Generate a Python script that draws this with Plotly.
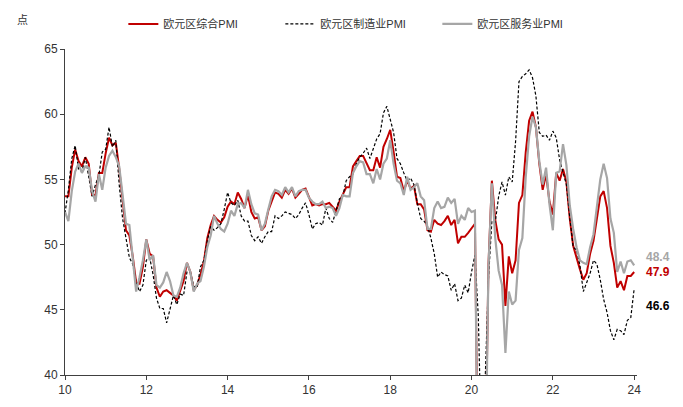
#!/usr/bin/env python

import plotly.graph_objs as go

# monthly, Jan 2010 .. Jan 2024
composite = [
    53.7, 53.7, 55.9, 57.3, 56.4, 56.0, 56.7, 56.2, 53.8, 53.8, 55.5, 55.5,
    57.0, 58.2, 57.6, 57.8, 55.8, 53.3, 51.1, 50.7, 49.1, 47.1, 47.0, 48.3,
    50.4, 49.3, 49.1, 46.7, 46.0, 46.4, 46.5, 46.3, 46.1, 45.7, 46.5, 47.2,
    48.6, 47.9, 46.5, 46.9, 47.7, 48.7, 50.5, 51.5, 52.2, 51.9, 51.7, 52.1,
    52.9, 53.3, 53.1, 54.0, 53.5, 52.8, 53.8, 52.5, 52.0, 52.1, 51.1, 51.4,
    52.6, 53.3, 54.0, 53.9, 53.6, 54.2, 53.9, 54.3, 53.6, 53.9, 54.2, 54.3,
    53.6, 53.0, 53.1, 53.0, 53.1, 53.1, 53.2, 52.9, 52.6, 53.3, 53.9, 54.4,
    54.4, 56.0, 56.4, 56.8, 56.8, 56.3, 55.7, 55.7, 56.7, 55.9, 57.5, 58.1,
    58.8, 57.1, 55.2, 55.1, 54.1, 54.9, 54.3, 54.5, 53.1, 53.1, 52.7, 51.1,
    51.0, 51.9, 51.6, 51.5, 51.8, 52.2, 51.5, 51.9, 50.1, 50.6, 50.6, 50.9,
    51.3, 51.6, 29.7, 13.6, 31.9, 48.5, 54.9, 51.9, 50.4, 50.0, 45.3, 49.1,
    47.8, 48.8, 53.2, 53.8, 57.1, 59.5, 60.2, 59.0, 56.2, 54.2, 55.4, 53.3,
    52.3, 55.5, 54.9, 55.8, 54.8, 52.0, 49.9, 48.9, 48.1, 47.3, 47.8, 49.3,
    50.3, 52.0, 53.7, 54.1, 52.8, 49.9, 48.6, 46.7, 47.2, 46.5, 47.6, 47.6,
    47.9,
]

manufacturing = [
    52.4, 54.2, 56.6, 57.6, 55.8, 55.6, 56.7, 55.1, 53.7, 54.6, 55.3, 57.1,
    57.3, 59.0, 57.5, 58.0, 54.6, 52.0, 50.4, 49.0, 48.5, 47.1, 46.4, 46.9,
    48.8, 49.0, 47.7, 45.9, 45.1, 45.1, 44.0, 45.1, 46.1, 45.4, 46.2, 46.1,
    47.9, 47.9, 46.8, 46.7, 48.3, 48.8, 50.3, 51.4, 51.1, 51.3, 51.6, 52.7,
    54.0, 53.2, 53.0, 53.4, 52.2, 51.8, 51.8, 50.7, 50.3, 50.6, 50.1, 50.6,
    51.0, 51.0, 52.2, 52.0, 52.2, 52.5, 52.4, 52.3, 52.0, 52.3, 52.8, 53.2,
    52.3, 51.2, 51.6, 51.7, 51.5, 52.8, 52.0, 51.7, 52.6, 53.5, 53.7, 54.9,
    55.2, 55.4, 56.2, 56.7, 57.0, 57.4, 56.6, 57.4, 58.1, 58.5, 60.1, 60.6,
    59.6, 58.6, 56.6, 56.2, 55.5, 54.9, 55.1, 54.6, 53.2, 52.0, 51.8, 51.4,
    50.5, 49.3, 47.5, 47.9, 47.7, 47.6, 46.5, 47.0, 45.7, 45.9, 46.9, 46.3,
    47.9, 49.2, 44.5, 33.4, 39.4, 47.4, 51.8, 51.7, 53.7, 54.8, 53.8, 55.2,
    54.8, 57.9, 62.5, 62.9, 63.1, 63.4, 62.8, 61.4, 58.6, 58.3, 58.4, 58.0,
    58.7, 58.2, 56.5, 55.5, 54.6, 52.1, 49.8, 49.6, 48.4, 46.4, 47.1, 47.8,
    48.8, 48.5, 47.3, 45.8, 44.8, 43.4, 42.7, 43.5, 43.4, 43.1, 44.2, 44.4,
    46.6,
]

services = [
    52.5, 51.8, 54.1, 55.6, 56.2, 55.5, 56.0, 55.9, 54.1, 53.3, 55.4, 54.2,
    55.9, 56.8, 57.2, 56.7, 56.0, 53.7, 51.6, 51.5, 48.8, 46.4, 47.5, 48.8,
    50.4, 48.8, 49.2, 46.9, 46.7, 47.1, 47.9, 47.2, 46.1, 46.0, 46.7, 47.8,
    48.6, 47.9, 46.4, 47.0, 47.2, 48.3, 49.8, 50.7, 52.2, 51.6, 51.2, 51.0,
    51.6, 52.6, 52.2, 53.1, 53.2, 52.8, 54.2, 53.1, 52.4, 52.3, 51.1, 51.6,
    52.7, 53.7, 54.2, 54.1, 53.8, 54.4, 54.0, 54.4, 53.7, 54.1, 54.2, 54.2,
    53.6, 53.3, 53.1, 53.1, 53.3, 52.8, 52.9, 52.8, 52.2, 52.8, 53.8, 53.7,
    53.7, 55.5, 56.0, 56.4, 56.3, 55.4, 55.4, 54.7, 55.8, 55.0, 56.2, 56.6,
    58.0, 56.2, 54.9, 54.7, 53.8, 55.2, 54.2, 54.4, 54.7, 53.7, 53.4, 51.2,
    51.2, 52.8, 53.3, 52.8, 52.9, 53.6, 53.2, 53.5, 51.6, 52.2, 51.9, 52.8,
    52.5, 52.6, 26.4, 12.0, 30.5, 48.3, 54.7, 50.5, 48.0, 46.9, 41.7, 46.4,
    45.4, 45.7, 49.6, 50.5, 55.2, 58.3, 59.8, 59.0, 56.4, 54.6, 55.9, 53.1,
    51.1, 55.5, 55.6, 57.7, 56.1, 53.0, 51.2, 49.8, 48.8, 48.6, 48.5, 49.8,
    50.8, 52.7, 55.0, 56.2, 55.1, 52.0, 50.9, 47.9, 48.7, 47.8, 48.7, 48.8,
    48.4,
]

tick_years = [10, 12, 14, 16, 18, 20, 22, 24]

x = [10 + i / 12.0 for i in range(len(composite))]

RED = '#C00000'
GREY = '#A6A6A6'
font_family = 'Arial, "Liberation Sans", "Noto Sans CJK SC", sans-serif'

traces = [
    go.Scatter(x=x, y=composite, mode='lines', name='欧元区综合PMI',
               line=dict(color=RED, width=2)),
    go.Scatter(x=x, y=manufacturing, mode='lines', name='欧元区制造业PMI',
               line=dict(color='#000000', width=1.2, dash='3px,2px')),
    go.Scatter(x=x, y=services, mode='lines', name='欧元区服务业PMI',
               line=dict(color=GREY, width=2.2)),
]

# end-of-series labels (shifted apart so they do not collide)
end_labels = [
    (services[-1], GREY, 8),
    (composite[-1], RED, 0),
    (manufacturing[-1], '#000000', -17),
]
annotations = []
for val, col, shift in end_labels:
    annotations.append(dict(x=1.012, y=val, xref='paper', yref='y', xanchor='left',
                            text='<b>{:.1f}</b>'.format(val), showarrow=False,
                            yshift=shift, font=dict(size=12, color=col)))
annotations.append(dict(x=-0.088, y=1.09, xref='paper', yref='paper',
                        xanchor='left', yanchor='middle', text='点',
                        showarrow=False, font=dict(size=11, color='#333333')))

layout = go.Layout(
    width=683, height=407,
    margin=dict(l=65, r=46, t=49, b=32, autoexpand=False),
    paper_bgcolor='white', plot_bgcolor='white',
    font=dict(family=font_family, size=12, color='#333333'),
    showlegend=True,
    legend=dict(orientation='h', x=0.102, y=1.077, xanchor='left', yanchor='middle',
                font=dict(size=11), itemwidth=30, entrywidth=112,
                entrywidthmode='pixels', traceorder='normal'),
    xaxis=dict(range=[10, 24.07], tickvals=tick_years,
               ticktext=[str(t) for t in tick_years],
               showgrid=False, zeroline=False, showline=True,
               linecolor='#404040', linewidth=1,
               ticks='outside', ticklen=4, tickcolor='#404040'),
    yaxis=dict(range=[40, 65], dtick=5, showgrid=False, zeroline=False,
               showline=True, linecolor='#404040', linewidth=1,
               ticks='outside', ticklen=4, tickcolor='#404040'),
    annotations=annotations,
)

fig = go.Figure(data=traces, layout=layout)
# page body has a default 8px margin; drop it so the figure fills the window
fig.write_html("out.html", config={'displayModeBar': False},
               post_script="document.body.style.margin='0';")
